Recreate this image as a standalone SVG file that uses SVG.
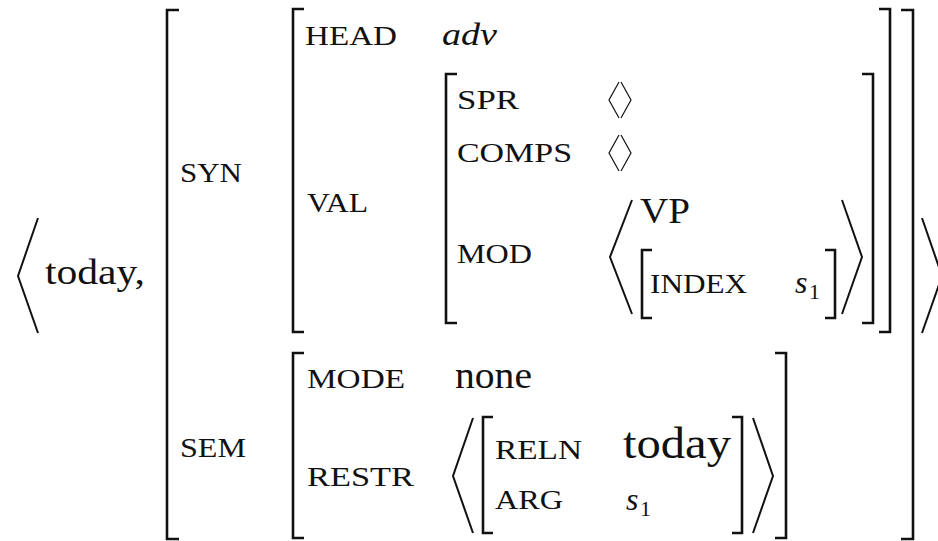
<svg xmlns="http://www.w3.org/2000/svg" width="938" height="541" viewBox="0 0 938 541">
<style>
.br { fill: none; stroke: #111; stroke-width: 2.6; }
.ang { fill: none; stroke: #111; stroke-width: 2; stroke-linejoin: miter; }
.el { fill: none; stroke: #111; stroke-width: 1.2; }
</style>
<rect width="938" height="541" fill="#fff"/>

<g id="outer">
  <path class="ang" d="M38 218 L18 276 L38 333"/>
  <text x="45" y="284" font-family="Liberation Serif" font-size="36" fill="#111" textLength="100" lengthAdjust="spacingAndGlyphs">today,</text>
  <path class="br" d="M179 10 H167 V539 H179"/>
  <path class="br" d="M901 10 H913 V539 H901"/>
  <path class="ang" d="M922 218 L942 276 L922 333"/>
  <text x="180" y="182" font-family="Liberation Serif" font-size="27" fill="#111" textLength="62" lengthAdjust="spacingAndGlyphs">SYN</text>
  <text x="180" y="457" font-family="Liberation Serif" font-size="27" fill="#111" textLength="66" lengthAdjust="spacingAndGlyphs">SEM</text>
</g>

<g id="syn">
  <path class="br" d="M304 9 H293 V332 H304"/>
  <path class="br" d="M879 9 H890 V332 H879"/>
  <text x="305" y="45" font-family="Liberation Serif" font-size="27" fill="#111" textLength="92" lengthAdjust="spacingAndGlyphs">HEAD</text>
  <text x="442" y="45" font-family="Liberation Serif" font-size="31" font-style="italic" fill="#111" textLength="55" lengthAdjust="spacingAndGlyphs">adv</text>
  <text x="307" y="212" font-family="Liberation Serif" font-size="27" fill="#111" textLength="61" lengthAdjust="spacingAndGlyphs">VAL</text>
</g>

<g id="val">
  <path class="br" d="M457 74 H446 V323 H457"/>
  <path class="br" d="M862 74 H873 V323 H862"/>
  <text x="457" y="109" font-family="Liberation Serif" font-size="27" fill="#111" textLength="62" lengthAdjust="spacingAndGlyphs">SPR</text>
  <path class="el" d="M619 82 L609 100 L619 118 M621 82 L631 100 L621 118"/>
  <text x="457" y="162" font-family="Liberation Serif" font-size="27" fill="#111" textLength="115" lengthAdjust="spacingAndGlyphs">COMPS</text>
  <path class="el" d="M619 135 L609 153 L619 171 M621 135 L631 153 L621 171"/>
  <text x="457" y="263" font-family="Liberation Serif" font-size="27" fill="#111" textLength="75" lengthAdjust="spacingAndGlyphs">MOD</text>
</g>

<g id="mod">
  <path class="ang" d="M632 200 L610 257 L632 314"/>
  <path class="ang" d="M842 200 L862 257 L842 314"/>
  <text x="640" y="223" font-family="Liberation Serif" font-size="35" fill="#111" textLength="50" lengthAdjust="spacingAndGlyphs">VP</text>
  <path class="br" d="M652 250 H642 V318 H652"/>
  <path class="br" d="M825 250 H835 V318 H825"/>
  <text x="650" y="293" font-family="Liberation Serif" font-size="27" fill="#111" textLength="97" lengthAdjust="spacingAndGlyphs">INDEX</text>
  <text x="795" y="293" font-family="Liberation Serif" font-size="32" font-style="italic" fill="#111">s</text>
  <text x="809" y="299" font-family="Liberation Serif" font-size="22" fill="#111">1</text>
</g>

<g id="sem">
  <path class="br" d="M304 353 H293 V538 H304"/>
  <path class="br" d="M775 353 H786 V538 H775"/>
  <text x="307" y="388" font-family="Liberation Serif" font-size="27" fill="#111" textLength="98" lengthAdjust="spacingAndGlyphs">MODE</text>
  <text x="455" y="388" font-family="Liberation Serif" font-size="37" fill="#111" textLength="77" lengthAdjust="spacingAndGlyphs">none</text>
  <text x="307" y="486" font-family="Liberation Serif" font-size="27" fill="#111" textLength="107" lengthAdjust="spacingAndGlyphs">RESTR</text>
</g>

<g id="restr">
  <path class="ang" d="M473 418 L453 476 L473 533"/>
  <path class="ang" d="M753 418 L773 476 L753 533"/>
  <path class="br" d="M493 417 H483 V533 H493"/>
  <path class="br" d="M732 417 H742 V533 H732"/>
  <text x="495" y="459" font-family="Liberation Serif" font-size="27" fill="#111" textLength="87" lengthAdjust="spacingAndGlyphs">RELN</text>
  <text x="623" y="458" font-family="Liberation Serif" font-size="44" fill="#111" textLength="108" lengthAdjust="spacingAndGlyphs">today</text>
  <text x="495" y="509" font-family="Liberation Serif" font-size="27" fill="#111" textLength="68" lengthAdjust="spacingAndGlyphs">ARG</text>
  <text x="626" y="510" font-family="Liberation Serif" font-size="32" font-style="italic" fill="#111">s</text>
  <text x="640" y="516" font-family="Liberation Serif" font-size="22" fill="#111">1</text>
</g>

<g id="connectors"></g>
</svg>
